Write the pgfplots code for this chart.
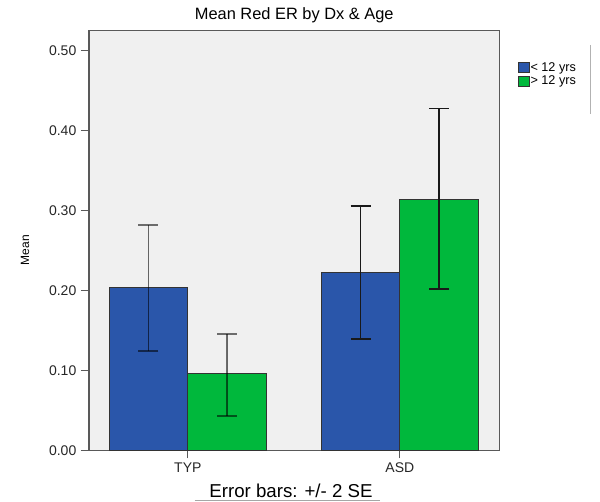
\documentclass[border=0pt]{standalone}
\usepackage{pgfplots}
\pgfplotsset{compat=1.18}
\usepackage{fontspec}
\setmainfont{Liberation Sans}
\definecolor{spssblue}{RGB}{42,86,170}
\definecolor{spssgreen}{RGB}{0,184,60}
\definecolor{panelbg}{RGB}{240,240,240}
\begin{document}
\begin{tikzpicture}[x=1pt,y=1pt]
\useasboundingbox (0,0) rectangle (450,375.75);
\begin{axis}[
    at={(66.75pt,37.9pt)}, anchor=south west,
    scale only axis,
    width=307.9pt, height=315pt,
    xmin=-0.466, xmax=1.47,
    ymin=0, ymax=0.525,
    ybar=0pt,
    axis background/.style={fill=panelbg},
    axis line style={black!65, line width=0.9pt},
    xtick={0,1}, xticklabels={TYP,ASD},
    ytick={0,0.1,0.2,0.3,0.4,0.5},
    tick align=outside,
    major tick length=6pt,
    tick style={black!65, line width=0.8pt},
    xtick pos=lower, ytick pos=left,
    yticklabel style={/pgf/number format/.cd, fixed, fixed zerofill, precision=2, assume math mode=true},
    ticklabel style={font=\fontsize{10.5}{10.5}\selectfont, black!85},
    title={Mean Red ER by Dx \& Age},
    title style={at={(0.5,1.017)}, anchor=center, font=\fontsize{12.3}{12.3}\selectfont},
    xlabel={Error bars: +/- 2 SE},
    xlabel style={at={(0.492,-0.096)}, anchor=center, font=\fontsize{14}{14}\selectfont},
    ylabel={Mean},
    ylabel style={at={(-0.156,0.477)}, anchor=center, font=\fontsize{9}{9}\selectfont},
    legend style={at={(1.044,0.927)}, anchor=north west, draw=none, fill=none,
        font=\fontsize{9.5}{9.5}\selectfont, inner sep=0pt, row sep=1pt,
        nodes={inner sep=0.6pt}},
    legend cell align=left,
    legend image code/.code={\draw[#1, draw=black!80, line width=0.4pt] (0pt,-3.8pt) rectangle (8.5pt,3.8pt);},
]
% < 12 yrs, TYP
\addplot[fill=spssblue, draw=black!80, line width=0.6pt, bar width=0.371, bar shift=-0.1855,
    error bars/.cd, y dir=both, y explicit, error mark=|,
    error bar style={black, opacity=0.55, line width=1.3pt},
    error mark options={mark size=7.5pt, line width=1.3pt}]
    coordinates {(0,0.204) += (0,0.078) -= (0,0.0795)};
\addlegendentry{< 12 yrs}
% > 12 yrs, TYP
\addplot[fill=spssgreen, draw=black!80, line width=0.6pt, bar width=0.371, bar shift=0.1855,
    error bars/.cd, y dir=both, y explicit, error mark=|,
    error bar style={black, opacity=0.55, line width=1.3pt},
    error mark options={mark size=7.5pt, line width=1.3pt}]
    coordinates {(0,0.096) += (0,0.050) -= (0,0.0525)};
\addlegendentry{> 12 yrs}
% < 12 yrs, ASD
\addplot[forget plot, fill=spssblue, draw=black!80, line width=0.6pt, bar width=0.371, bar shift=-0.1855,
    error bars/.cd, y dir=both, y explicit, error mark=|,
    error bar style={black!90, line width=1.3pt},
    error mark options={mark size=7.5pt, line width=1.3pt}]
    coordinates {(1,0.2225) += (0,0.0835) -= (0,0.0835)};
% > 12 yrs, ASD
\addplot[forget plot, fill=spssgreen, draw=black!80, line width=0.6pt, bar width=0.371, bar shift=0.1855,
    error bars/.cd, y dir=both, y explicit, error mark=|,
    error bar style={black!90, line width=1.3pt},
    error mark options={mark size=7.5pt, line width=1.3pt}]
    coordinates {(1,0.314) += (0,0.1135) -= (0,0.1125)};
\end{axis}
\draw[black!30, line width=0.6pt] (442.5,342) -- (442.5,290);
\draw[black!35, line width=0.8pt] (146,0.6) -- (285,0.6);
\end{tikzpicture}
\end{document}
